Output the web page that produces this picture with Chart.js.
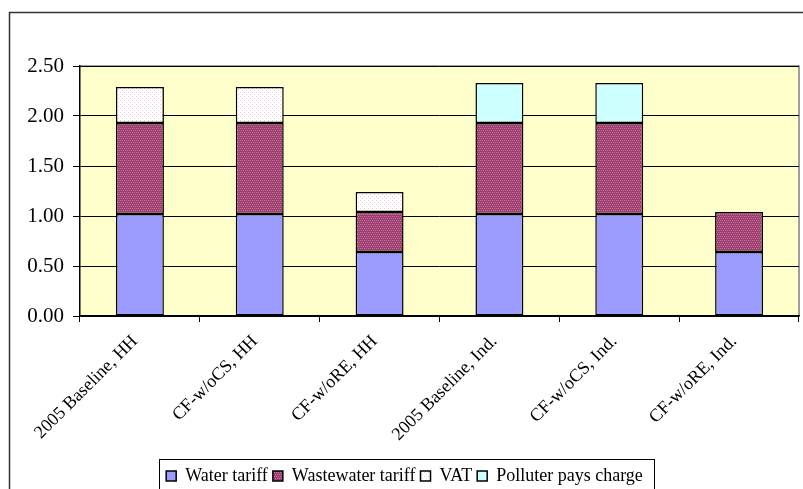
<!DOCTYPE html>
<html>
<head>
<meta charset="utf-8">
<script src="https://cdn.jsdelivr.net/npm/chart.js@4/dist/chart.umd.min.js"></script>
<style>
  html, body { margin: 0; padding: 0; background: #ffffff; }
  #wrap { width: 803px; height: 489px; position: relative; }
</style>
</head>
<body>
<div id="wrap"><canvas id="chart" width="803" height="489"></canvas></div>
<script>
// Scenario categories (x axis)
const categories = [
  '2005 Baseline, HH', 'CF-w/oCS, HH', 'CF-w/oRE, HH',
  '2005 Baseline, Ind.', 'CF-w/oCS, Ind.', 'CF-w/oRE, Ind.'
];
// Stacked components of the tariff
const waterTariff      = [1.02, 1.02, 0.64, 1.02, 1.02, 0.64];
const wastewaterTariff = [0.91, 0.91, 0.40, 0.91, 0.91, 0.40];
const vat              = [0.36, 0.36, 0.20, null, null, null];
const polluterCharge   = [null, null, null, 0.40, 0.40, null];
// Value axis ticks
const yTicks = [0, 0.5, 1.0, 1.5, 2.0, 2.5];

const SERIF = '"Liberation Serif", "Times New Roman", serif';

// Small dotted fill patterns
function dotPattern(base, dot, step) {
  const c = document.createElement('canvas');
  c.width = step; c.height = step;
  const g = c.getContext('2d');
  g.fillStyle = base; g.fillRect(0, 0, step, step);
  g.fillStyle = dot;
  for (let y = 0; y < step; y += 2) {
    for (let x = (y / 2) % 2; x < step; x += 2) g.fillRect(x, y, 1, 1);
  }
  return g.createPattern(c, 'repeat');
}
const ctx = document.getElementById('chart').getContext('2d');
const waterFill = dotPattern('#9999FF', '#A3A3FF', 4);
const wasteFill = dotPattern('#9C3D6F', '#CB76A1', 4);
const vatFill = (function () {
  const c = document.createElement('canvas');
  c.width = 4; c.height = 4;
  const g = c.getContext('2d');
  g.fillStyle = '#FFFFFF'; g.fillRect(0, 0, 4, 4);
  g.fillStyle = '#F2C8DA'; g.fillRect(0, 0, 1, 1); g.fillRect(2, 2, 1, 1);
  return g.createPattern(c, 'repeat');
})();

// Frame around the whole figure, plot background and legend box
const decor = {
  id: 'decor',
  beforeDraw(chart) {
    const { ctx, chartArea: a } = chart;
    ctx.save();
    ctx.fillStyle = '#FFFFCC';
    ctx.fillRect(a.left, a.top, a.right - a.left, a.bottom - a.top);
    ctx.strokeStyle = '#808080';
    ctx.lineWidth = 1.5;
    ctx.beginPath();
    ctx.moveTo(a.left, a.top); ctx.lineTo(a.right, a.top); ctx.lineTo(a.right, a.bottom);
    ctx.stroke();
    ctx.strokeStyle = '#333333';
    ctx.lineWidth = 1.5;
    ctx.beginPath();
    ctx.moveTo(9.5, chart.height); ctx.lineTo(9.5, 12.5); ctx.lineTo(chart.width, 12.5);
    ctx.stroke();
    ctx.restore();
  },
  afterDraw(chart) {
    const boxes = chart.legend && chart.legend.legendHitBoxes;
    if (!boxes || !boxes.length) return;
    let l = Infinity, r = -Infinity, t = Infinity;
    boxes.forEach(h => {
      l = Math.min(l, h.left); r = Math.max(r, h.left + h.width);
      t = Math.min(t, h.top);
    });
    const ctx = chart.ctx;
    ctx.save();
    ctx.strokeStyle = '#000000';
    ctx.lineWidth = 1;
    ctx.strokeRect(Math.round(l - 7) + 0.5, Math.round(t - 8) + 0.5,
                   Math.round(r - l + 18), 60);
    ctx.restore();
  }
};

function series(label, data, fill) {
  return {
    label, data, backgroundColor: fill,
    borderColor: '#000000', borderWidth: 1.5, borderSkipped: false,
    categoryPercentage: 1.0, barPercentage: 0.4
  };
}

new Chart(ctx, {
  type: 'bar',
  data: {
    labels: categories,
    datasets: [
      series('Water tariff', waterTariff, waterFill),
      series('Wastewater tariff', wastewaterTariff, wasteFill),
      series('VAT', vat, vatFill),
      series('Polluter pays charge', polluterCharge, '#CCFFFF')
    ]
  },
  options: {
    responsive: false,
    animation: false,
    devicePixelRatio: 1,
    layout: { padding: { left: 10, right: 4, top: 66, bottom: -6 } },
    plugins: {
      tooltip: { enabled: false },
      legend: {
        position: 'bottom',
        labels: {
          font: { family: SERIF, size: 18 },
          color: '#000000',
          boxWidth: 10, boxHeight: 10,
          padding: 5
        }
      }
    },
    scales: {
      x: {
        stacked: true,
        offset: true,
        grid: {
          offset: true, drawOnChartArea: false, drawTicks: true,
          tickLength: 6, color: '#000000', lineWidth: 1
        },
        border: { color: '#000000', width: 1.5 },
        ticks: {
          font: { family: SERIF, size: 18 }, color: '#000000',
          minRotation: 45, maxRotation: 45, padding: 9, autoSkip: false,
          labelOffset: -5
        },
        afterFit(scale) {
          const legendH = scale.chart.legend ? scale.chart.legend.height : 0;
          scale.height = 489 - 316 - legendH + 6;
        }
      },
      y: {
        stacked: true,
        min: 0, max: 2.5,
        afterBuildTicks(scale) { scale.ticks = yTicks.map(v => ({ value: v })); },
        grid: { color: '#000000', lineWidth: 1, tickLength: 7, drawTicks: true },
        border: { color: '#000000', width: 1.5 },
        ticks: {
          font: { family: SERIF, size: 21 }, color: '#000000', padding: 9,
          callback: v => Number(v).toFixed(2)
        },
        afterFit(scale) { scale.width = 70; }
      }
    }
  },
  plugins: [decor]
});
</script>
</body>
</html>
